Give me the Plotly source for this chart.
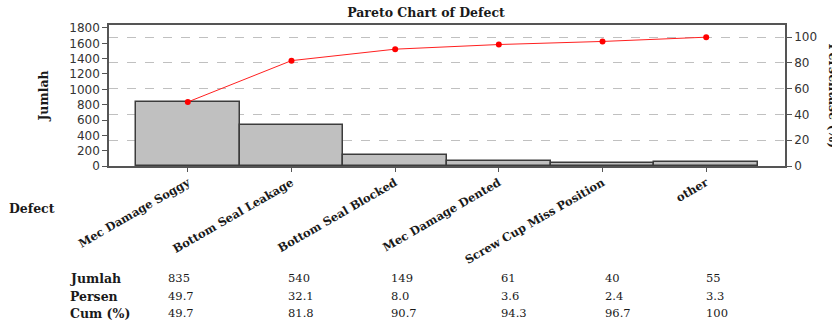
import plotly.graph_objects as go

categories = ["Mec Damage Soggy", "Bottom Seal Leakage", "Bottom Seal Blocked",
              "Mec Damage Dented", "Screw Cup Miss Position", "other"]
jumlah = [835, 540, 149, 61, 40, 55]
persen = ["49.7", "32.1", "8.0", "3.6", "2.4", "3.3"]
cum = ["49.7", "81.8", "90.7", "94.3", "96.7", "100"]
cum_values = [49.7, 81.8, 90.7, 94.3, 96.7, 100]
left_ticks = [0, 200, 400, 600, 800, 1000, 1200, 1400, 1600, 1800]
right_ticks = [0, 20, 40, 60, 80, 100]

total = sum(jumlah)
ymax = 1839
y2max = ymax / total * 100

SERIF = "DejaVu Serif"
SANS = "DejaVu Sans"
TXT = "#1a1a1a"
idx = list(range(len(categories)))

fig = go.Figure()
fig.add_trace(go.Bar(x=idx, y=jumlah, width=1.0,
                     marker=dict(color="#c0c0c0", line=dict(color="#3c3c3c", width=1.5)),
                     showlegend=False))
fig.add_trace(go.Scatter(x=idx, y=cum_values, yaxis="y2", mode="lines+markers",
                         line=dict(color="#ff2020", width=1),
                         marker=dict(color="#ff0000", size=6),
                         showlegend=False))

annotations = []
shifts = [-22, -5, -6, 0, 0, -2]
rows = [("Jumlah", [str(v) for v in jumlah], -112),
        ("Persen", persen, -130),
        ("Cum (%)", cum, -147)]
for label, vals, ys in rows:
    annotations.append(dict(text="<b>%s</b>" % label, xref="paper", yref="paper",
                            x=0, y=0, xshift=-41, yshift=ys, xanchor="left", yanchor="middle",
                            showarrow=False, font=dict(family=SERIF, size=12.5, color=TXT)))
    for i, v in enumerate(vals):
        annotations.append(dict(text=v, xref="x", yref="paper", x=idx[i], y=0,
                                xshift=shifts[i], yshift=ys, xanchor="left", yanchor="middle",
                                showarrow=False, font=dict(family=SERIF, size=11.5, color=TXT)))
annotations.append(dict(text="<b>Defect</b>", xref="paper", yref="paper", x=0, y=0,
                        xshift=-102, yshift=-42, xanchor="left", yanchor="middle",
                        showarrow=False, font=dict(family=SERIF, size=12.5, color=TXT)))
# right axis title, partly beyond the right edge as in the reference
annotations.append(dict(text="<b>Persentase (%)</b>", xref="paper", yref="paper",
                        x=1, y=0.5, xshift=48, xanchor="center", yanchor="middle",
                        textangle=90, showarrow=False,
                        font=dict(family=SERIF, size=12.5, color=TXT)))

fig.update_layout(
    width=832, height=320,
    margin=dict(l=109, r=47, t=25, b=154, autoexpand=False),
    paper_bgcolor="white", plot_bgcolor="white",
    bargap=0,
    title=dict(text="<b>Pareto Chart of Defect</b>", x=426/832, xanchor="center",
               y=1 - 13/320, yanchor="middle",
               font=dict(family=SERIF, size=12.5, color=TXT)),
    xaxis=dict(range=[-0.76, 5.76], tickvals=idx,
               ticktext=["<b>%s</b>" % c for c in categories], tickangle=-30,
               ticks="outside", ticklen=4, tickcolor="#555",
               showline=True, linecolor="#555", linewidth=1.5, mirror=True,
               showgrid=False, zeroline=False,
               tickfont=dict(family=SERIF, size=11.5, color=TXT)),
    yaxis=dict(range=[0, ymax], tickvals=left_ticks, ticks="outside", ticklen=5,
               tickcolor="#555", showline=True, linecolor="#555", linewidth=1.5,
               showgrid=False, zeroline=False,
               tickfont=dict(family=SANS, size=12, color="#333"),
               title=dict(text="<b>Jumlah</b>", standoff=18,
                          font=dict(family=SERIF, size=12.5, color=TXT))),
    yaxis2=dict(range=[0, y2max], tickvals=right_ticks, overlaying="y", side="right",
                ticks="outside", ticklen=5, tickcolor="#555",
                showline=True, linecolor="#555", linewidth=1.5,
                showgrid=True, gridcolor="#c0c0c0", griddash="dash", gridwidth=1,
                zeroline=False,
                tickfont=dict(family=SANS, size=12, color="#333")),
    annotations=annotations,
)

# remove the default 8px page margin so the 832x320 figure fills the window
fig.write_html("out.html", config={"displayModeBar": False},
               post_script="document.body.style.margin='0px';")
